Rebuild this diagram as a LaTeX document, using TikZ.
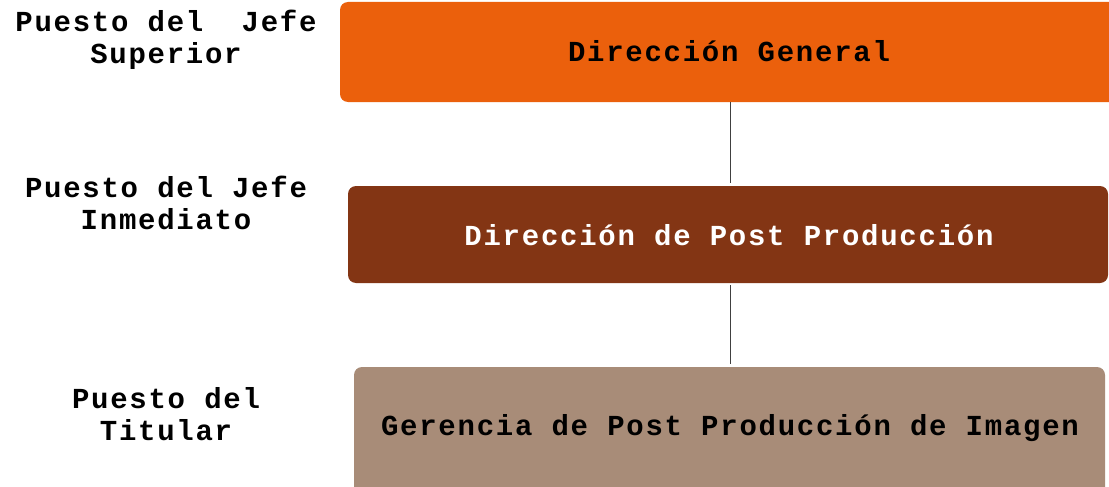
\documentclass[tikz,border=0pt]{standalone}
\usepackage{fontspec}
\newfontfamily\cf{Liberation Mono}[LetterSpace=6]
\definecolor{orangeA}{HTML}{EB600C}
\definecolor{brownA}{HTML}{833514}
\definecolor{tanA}{HTML}{A88C78}
\definecolor{lineA}{HTML}{404040}
\tikzset{
  box/.style={rounded corners=8pt, inner sep=0pt, anchor=north west},
  lbl/.style={align=center, font=\cf\bfseries\fontsize{29}{32}\selectfont, text=black, inner sep=0pt},
  boxtext/.style={font=\cf\bfseries\fontsize{29}{32}\selectfont, inner sep=0pt},
  conn/.style={draw=lineA, line width=1pt, shorten >=3pt},
}
\begin{document}
\begin{tikzpicture}[x=1pt,y=-1pt]
\useasboundingbox (0,0) rectangle (1109,487);
\clip (0,0) rectangle (1109,487);
\fill[white] (0,0) rectangle (1109,487);
\fill[orangeA, rounded corners=8pt] (340,2) rectangle (1125,102);
\node[box, minimum width=785pt, minimum height=100pt] (b1) at (340,2) {};
\fill[brownA, rounded corners=8pt] (348,186) rectangle (1108,283);
\node[box, minimum width=760pt, minimum height=97pt] (b2) at (348,186) {};
\fill[tanA, rounded corners=8pt] (354,367) rectangle (1105,500);
\node[box, minimum width=751pt, minimum height=120pt] (b3) at (354,367) {};
\node[boxtext, text=black] (t1) at (729,51) {Dirección General};
\node[boxtext, text=white] (t2) at (729,235) {Dirección de Post Producción};
\node[boxtext, text=black] (t3) at (730,428) {Gerencia de Post Producción de Imagen};
\node[lbl] (l1) at (166,40) {Puesto del\ \ Jefe\\Superior};
\node[lbl] (l2) at (166,203) {Puesto del Jefe\\Inmediato};
\node[lbl] (l3) at (166,414) {Puesto del\\Titular};
\coordinate (cx) at (730,0);
\draw[conn] (b1.south -| cx) -- (b2.north -| cx);
\draw[conn] ([yshift=-2pt]b2.south -| cx) -- (b3.north -| cx);
\end{tikzpicture}
\end{document}
